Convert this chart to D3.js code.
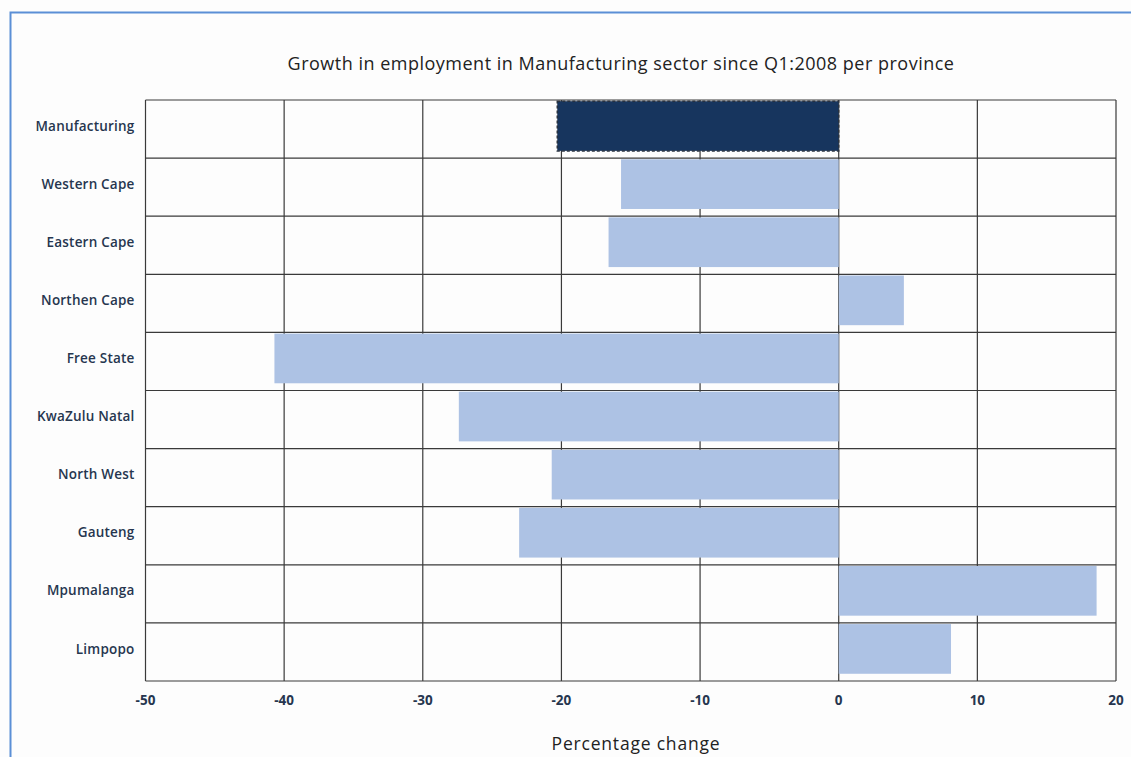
<!DOCTYPE html>
<html>
<head>
<meta charset="utf-8">
<script src="https://cdn.jsdelivr.net/npm/d3@7"></script>
<style>
  body { margin: 0; background: #fdfdfd; }
  text { font-family: "Open Sans", "Lato", sans-serif; }
</style>
</head>
<body>
<div id="chart"></div>
<script>
// categories and values (percentage change since Q1:2008)
const categories = ["Manufacturing", "Western Cape", "Eastern Cape", "Northen Cape", "Free State",
    "KwaZulu Natal", "North West", "Gauteng", "Mpumalanga", "Limpopo"];
const values = [-20.3, -15.7, -16.6, 4.7, -40.7, -27.4, -20.7, -23.05, 18.6, 8.1];
const xTicks = [-50, -40, -30, -20, -10, 0, 10, 20];

const W = 1131, H = 757;
const margin = {top: 100, right: 15, bottom: 76, left: 145.5};
const width = W - margin.left - margin.right;
const height = H - margin.top - margin.bottom;

const svg = d3.select("#chart").append("svg")
    .attr("width", W)
    .attr("height", H);

// blue frame
svg.append("rect")
    .attr("x", 10.5).attr("y", 12.5)
    .attr("width", 1300).attr("height", 900)
    .attr("fill", "none")
    .attr("stroke", "#5b8fd6")
    .attr("stroke-width", 2);

const g = svg.append("g")
    .attr("transform", `translate(${margin.left},${margin.top})`);

const x = d3.scaleLinear().domain([-50, 20]).range([0, width]);
const y = d3.scaleBand().domain(categories).range([0, height]).padding(0);

// grid
g.selectAll(".vgrid").data(xTicks).enter().append("line")
    .attr("x1", d => x(d)).attr("x2", d => x(d))
    .attr("y1", 0).attr("y2", height)
    .attr("stroke", "#3a3a3a").attr("stroke-width", 1.2);

g.selectAll(".hgrid").data(d3.range(categories.length + 1)).enter().append("line")
    .attr("x1", 0).attr("x2", width)
    .attr("y1", i => i * y.step()).attr("y2", i => i * y.step())
    .attr("stroke", "#3a3a3a").attr("stroke-width", 1.2);

// bars
const data = categories.map((c, i) => ({name: c, value: values[i]}));
g.selectAll(".bar").data(data).enter().append("rect")
    .attr("x", d => x(Math.min(0, d.value)))
    .attr("width", d => Math.abs(x(d.value) - x(0)))
    .attr("y", d => y(d.name) + 1.2)
    .attr("height", y.step() * 0.855)
    .attr("fill", (d, i) => i === 0 ? "#17355e" : "#adc2e4")
    .attr("stroke", (d, i) => i === 0 ? "#2a3340" : "none")
    .attr("stroke-dasharray", "3,2")
    .attr("stroke-width", 1.5);

// y labels
g.selectAll(".ylab").data(categories).enter().append("text")
    .attr("x", -11)
    .attr("y", d => y(d) + y.step() / 2 - 2)
    .attr("text-anchor", "end")
    .attr("dominant-baseline", "middle")
    .attr("fill", "#26364f")
    .style("font-size", "13.5px")
    .style("font-weight", "600")
    .style("letter-spacing", "0.2px")
    .text(d => d);

// x labels
g.selectAll(".xlab").data(xTicks).enter().append("text")
    .attr("x", d => x(d))
    .attr("y", height + 24)
    .attr("text-anchor", "middle")
    .attr("fill", "#26364f")
    .style("font-size", "13.5px")
    .style("font-weight", "700")
    .text(d => d);

// title
svg.append("text")
    .attr("x", 621).attr("y", 70)
    .attr("text-anchor", "middle")
    .attr("fill", "#222")
    .style("font-size", "18px")
    .style("font-weight", "500")
    .style("letter-spacing", "0.5px")
    .text("Growth in employment in Manufacturing sector since Q1:2008 per province");

// x axis title
svg.append("text")
    .attr("x", 636).attr("y", 750)
    .attr("text-anchor", "middle")
    .attr("fill", "#222")
    .style("font-size", "17.5px")
    .style("font-weight", "500")
    .style("letter-spacing", "0.8px")
    .text("Percentage change");
</script>
</body>
</html>
